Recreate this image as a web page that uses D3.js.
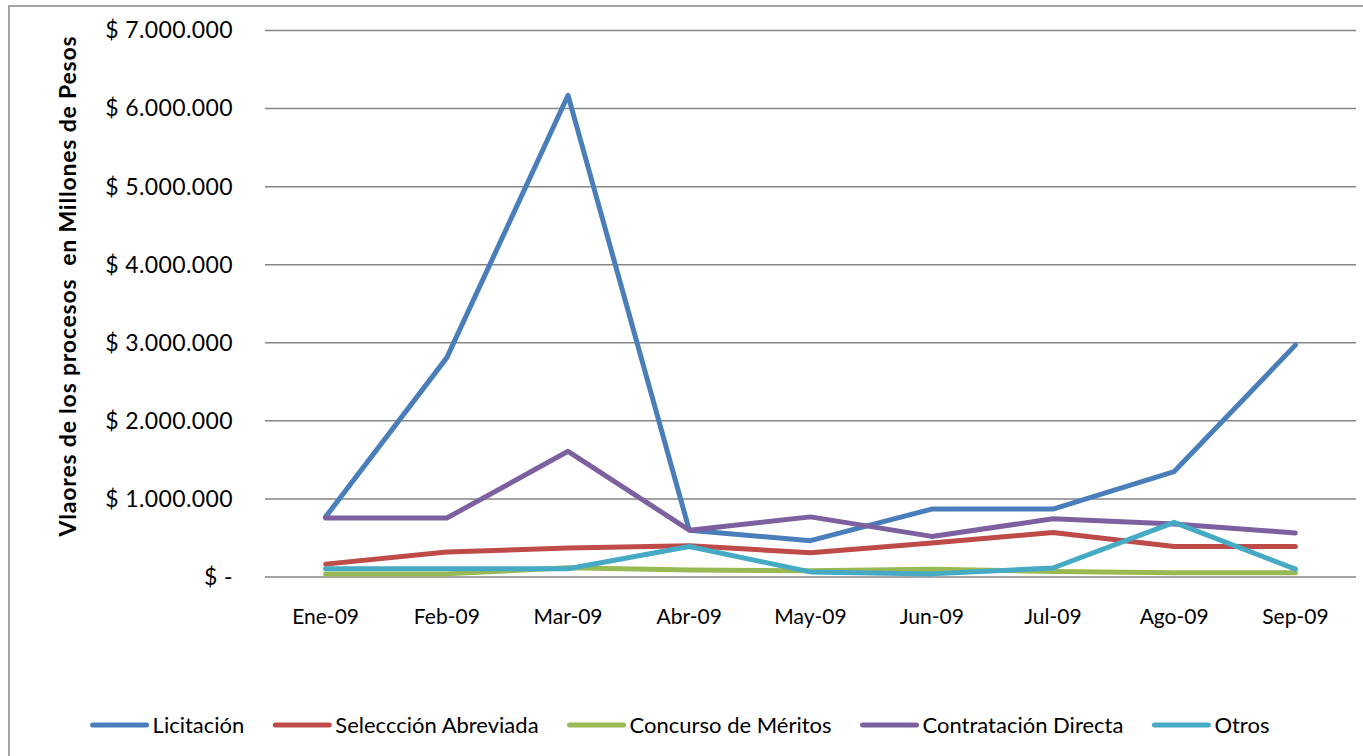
<!DOCTYPE html>
<html>
<head>
<meta charset="utf-8">
<script src="https://cdn.jsdelivr.net/npm/d3@7"></script>
<style>
  body { margin: 0; background: #fff; }
  svg { display: block; font-family: Lato, "Open Sans", sans-serif; }
</style>
</head>
<body>
<svg id="chart" width="1363" height="756"></svg>
<script>

// data (pesos)
var months = ["Ene-09", "Feb-09", "Mar-09", "Abr-09", "May-09", "Jun-09", "Jul-09", "Ago-09", "Sep-09"];
var licitacion   = [770000, 2810000, 6170000, 600000, 465000, 870000, 870000, 1350000, 2970000];
var seleccion    = [165000, 320000, 370000, 400000, 310000, 435000, 570000, 390000, 390000];
var concurso     = [40000, 40000, 120000, 90000, 80000, 100000, 70000, 55000, 55000];
var contratacion = [755000, 755000, 1610000, 600000, 770000, 520000, 745000, 680000, 565000];
var otros        = [105000, 105000, 105000, 390000, 65000, 40000, 115000, 700000, 100000];
var seriesNames  = ["Licitación", "Seleccción Abreviada", "Concurso de Méritos", "Contratación Directa", "Otros"];
var yTicks = [0, 1000000, 2000000, 3000000, 4000000, 5000000, 6000000, 7000000];

var colors = ["#4a7ebb", "#be4b48", "#98b954", "#7d60a0", "#46aac5"];
var allSeries = [licitacion, seleccion, concurso, contratacion, otros];

var svg = d3.select("#chart");

// outer chart border (right/bottom fall outside the picture)
svg.append("rect")
    .attr("x", 9).attr("y", 6)
    .attr("width", 1400).attr("height", 800)
    .attr("fill", "none")
    .attr("stroke", "#868686")
    .attr("stroke-width", 1.5);

var plotLeft = 265, plotRight = 1356, plotTop = 30.5, plotBottom = 577;

var x = d3.scaleBand()
    .domain(months)
    .range([plotLeft, plotRight]);

var y = d3.scaleLinear()
    .domain([0, 7000000])
    .range([plotBottom, plotTop]);

function fmt(v) {
  if (v === 0) return "$ -";
  return "$ " + d3.format(",")(v).replace(/,/g, ".");
}

// gridlines
svg.append("g")
  .selectAll("line")
  .data(yTicks)
  .enter()
  .append("line")
    .attr("x1", plotLeft).attr("x2", plotRight)
    .attr("y1", function (d) { return y(d); })
    .attr("y2", function (d) { return y(d); })
    .attr("stroke", "#868686")
    .attr("stroke-width", 1.5);

// Y axis labels
var yAxis = svg.append("g")
    .attr("transform", "translate(" + plotLeft + ",0)")
    .call(d3.axisLeft(y).tickValues(yTicks).tickFormat(fmt).tickSize(0).tickPadding(32));
yAxis.select(".domain").remove();
yAxis.selectAll("text")
    .style("font-family", "Lato, sans-serif")
    .style("font-size", "23px")
    .style("letter-spacing", "0.4px")
    .attr("fill", "#000");

// X axis labels
var xAxis = svg.append("g")
    .attr("transform", "translate(0," + plotBottom + ")")
    .call(d3.axisBottom(x).tickSize(0).tickPadding(32));
xAxis.select(".domain").remove();
xAxis.selectAll("text")
    .style("font-family", "Lato, sans-serif")
    .style("font-size", "21px")
    .attr("fill", "#000");

// Y title
svg.append("text")
    .attr("transform", "translate(76,286) rotate(-90)")
    .attr("text-anchor", "middle")
    .style("font-size", "23px")
    .style("font-weight", "bold")
    .style("letter-spacing", "0.8px")
    .style("white-space", "pre")
    .attr("fill", "#000")
    .text("Vlaores de los procesos  en Millones de Pesos");

// lines
var line = d3.line()
    .x(function (d, i) { return x(months[i]) + x.bandwidth() / 2; })
    .y(function (d) { return y(d); });

svg.append("g")
  .selectAll("path")
  .data(allSeries)
  .enter()
  .append("path")
    .attr("d", line)
    .attr("fill", "none")
    .attr("stroke", function (d, i) { return colors[i]; })
    .attr("stroke-width", 5)
    .attr("stroke-linejoin", "round")
    .attr("stroke-linecap", "round");

// legend
var legend = svg.append("g");
var items = legend.selectAll("g")
    .data(seriesNames)
    .enter()
    .append("g");
items.append("line")
    .attr("x1", 0).attr("x2", 54)
    .attr("y1", 0).attr("y2", 0)
    .attr("stroke", function (d, i) { return colors[i]; })
    .attr("stroke-width", 5)
    .attr("stroke-linecap", "round");
items.append("text")
    .attr("x", 60)
    .attr("dy", "0.35em")
    .style("font-size", "22px")
    .attr("fill", "#000")
    .text(function (d) { return d; });

var pos = 0;
items.each(function () {
  var g = d3.select(this);
  g.attr("transform", "translate(" + pos + ",0)");
  pos += 60 + g.select("text").node().getComputedTextLength() + 31;
});
var total = pos - 31;
legend.attr("transform", "translate(" + (681 - total / 2) + ",725)");

</script>
</body>
</html>
